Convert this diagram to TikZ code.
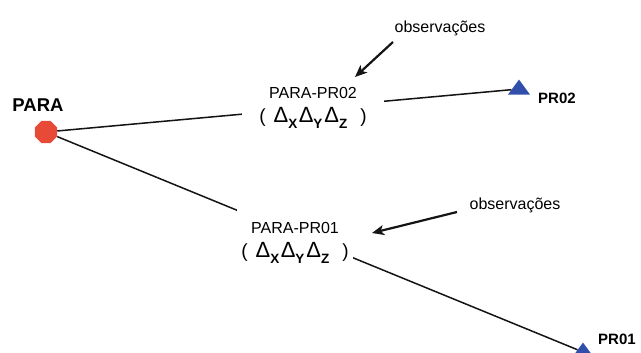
\documentclass[tikz,border=0pt]{standalone}
\usepackage{fontspec}
\setmainfont{Liberation Sans}
\usetikzlibrary{shapes.geometric,arrows.meta}
\definecolor{parared}{RGB}{232,74,56}
\definecolor{prblue}{RGB}{48,78,170}
\definecolor{inkblack}{RGB}{20,20,20}
\newcommand{\dsub}[1]{{\fontsize{22}{22}\selectfont Δ}\raisebox{-0.28em}{\fontsize{13.5}{13.5}\selectfont\bfseries #1}}
\newcommand{\dline}{{\fontsize{19}{19}\selectfont(\hspace{8pt}\dsub{X}\hspace{1.5pt}\dsub{Y}\hspace{2pt}\dsub{Z}\hspace{13pt})}}
\begin{document}
\begin{tikzpicture}[x=1pt,y=-1pt,
  station/.style={regular polygon, regular polygon sides=8, fill=parared, minimum size=24pt, inner sep=0pt},
  target/.style={isosceles triangle, shape border rotate=90, isosceles triangle apex angle=72, isosceles triangle stretches, fill=prblue, inner sep=0pt, minimum width=22pt, minimum height=15pt},
  bigname/.style={font=\fontsize{18.5}{18.5}\selectfont\bfseries, inner sep=0pt},
  smallname/.style={font=\fontsize{15}{15}\selectfont\bfseries, inner sep=0pt},
  baseline/.style={draw=inkblack, line width=1.5pt},
  vecbox/.style={fill=white, align=center, font=\fontsize{16}{24}\selectfont, inner sep=0pt},
  obstext/.style={font=\fontsize{16}{16}\selectfont, inner sep=0pt},
  obsarrow/.style={draw=inkblack, line width=2.2pt, -{Stealth[length=12pt,width=10pt,inset=3pt]}}
]
\useasboundingbox (0,0) rectangle (641,353);
\node[station] (para) at (46,132) {};
\node[bigname] (paraname) at (38,105) {PARA};
\node[target] (pr02) at (519,89) {};
\node[smallname] (pr02name) at (557,98) {PR02};
\node[target] (pr01) at (583,352) {};
\node[smallname] (pr01name) at (617,339) {PR01};
\draw[baseline] (para) -- (pr02);
\draw[baseline] (para) -- (pr01);
\node[vecbox, minimum width=142pt, minimum height=46pt] (lab2) at (313,108) {PARA-PR02\\\dline};
\node[vecbox, minimum width=116pt, minimum height=68pt] (lab1) at (295,243) {PARA-PR01\\\dline};
\node[obstext] (obs2) at (440,28) {observações};
\node[obstext] (obs1) at (515,205) {observações};
\draw[obsarrow] ([shift={(-47,14)}]obs2.center) -- ([shift={(42,-31)}]lab2.center);
\draw[obsarrow] ([shift={(-58,7)}]obs1.center) -- ([shift={(77,-10)}]lab1.center);
\end{tikzpicture}
\end{document}
